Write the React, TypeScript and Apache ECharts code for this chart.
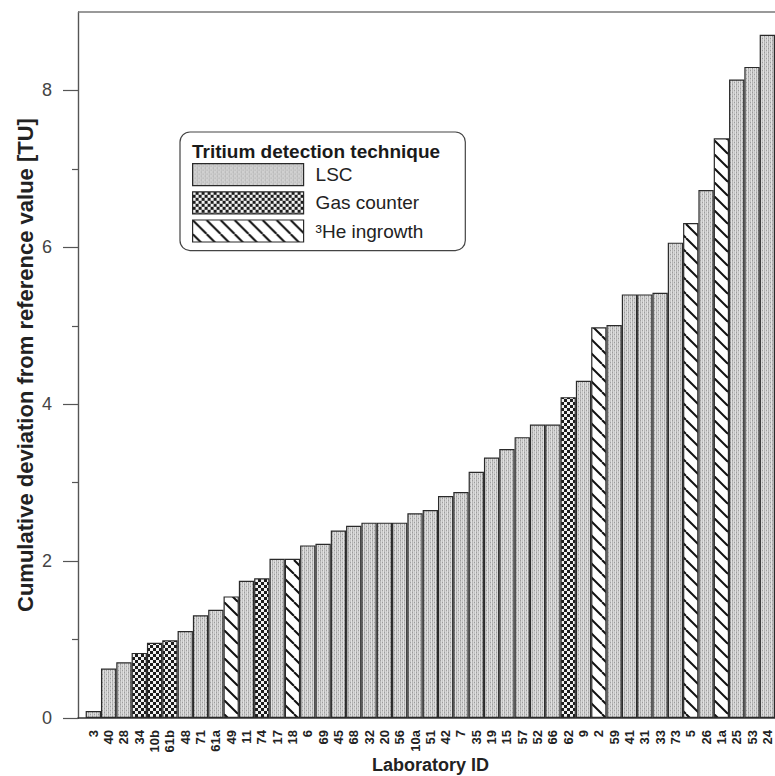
import React, { useEffect, useRef } from 'react';
import * as echarts from 'echarts';

// ---- data ----
const labIds = [
  '3', '40', '28', '34', '10b', '61b', '48', '71', '61a', '49',
  '11', '74', '17', '18', '6', '69', '45', '68', '32', '20',
  '56', '10a', '51', '42', '7', '35', '19', '15', '57', '52',
  '66', '62', '9', '2', '59', '41', '31', '33', '73', '5',
  '26', '1a', '25', '53', '24',
];
const deviations = [
  0.09, 0.63, 0.71, 0.83, 0.96, 0.99, 1.11, 1.31, 1.38, 1.55,
  1.75, 1.78, 2.03, 2.03, 2.20, 2.22, 2.39, 2.45, 2.49, 2.49,
  2.49, 2.61, 2.65, 2.83, 2.88, 3.14, 3.32, 3.43, 3.58, 3.74,
  3.74, 4.09, 4.30, 4.98, 5.01, 5.40, 5.40, 5.42, 6.06, 6.31,
  6.73, 7.39, 8.14, 8.30, 8.71,
];
// L = LSC, G = Gas counter, H = 3He ingrowth
const techniqueCodes = [
  'L', 'L', 'L', 'G', 'G', 'G', 'L', 'L', 'L', 'H',
  'L', 'G', 'L', 'H', 'L', 'L', 'L', 'L', 'L', 'L',
  'L', 'L', 'L', 'L', 'L', 'L', 'L', 'L', 'L', 'L',
  'L', 'G', 'L', 'H', 'L', 'L', 'L', 'L', 'L', 'H',
  'L', 'H', 'L', 'L', 'L',
];
const techniqueKeys = ['L', 'G', 'H'];
const techniqueNames = ['LSC', 'Gas counter', '\u00B3He ingrowth'];
const yMajorTicks = [0, 2, 4, 6, 8];
const yMinorTicks = [1, 3, 5, 7];
const xRange = [0, 45.5];
const yRange = [0, 9];
const legendTitle = 'Tritium detection technique';
const xTitle = 'Laboratory ID';
const yTitle = 'Cumulative deviation from reference value [TU]';

const FONT = '"Liberation Sans", Arial, Helvetica, sans-serif';

function makePattern(kind: string) {
  const c = document.createElement('canvas');
  let size = 4;
  if (kind === 'L') {
    size = 4;
    c.width = size; c.height = size;
    const ctx = c.getContext('2d')!;
    const cols = ['#b6b6b6', '#d9d9d9', '#c6c6c6', '#e0e0e0'];
    cols.forEach((col, i) => { ctx.fillStyle = col; ctx.fillRect(i, 0, 1, size); });
    ctx.fillStyle = '#9c9c9c';
    ctx.fillRect(0, 0, 1, 1);
    ctx.fillRect(2, 2, 1, 1);
  } else if (kind === 'G') {
    size = 6;
    c.width = size; c.height = size;
    const ctx = c.getContext('2d')!;
    ctx.fillStyle = '#1c1c1c';
    ctx.fillRect(0, 0, size, size);
    ctx.fillStyle = '#f2f2f2';
    ctx.fillRect(0, 0, 3, 3);
    ctx.fillRect(3, 3, 3, 3);
  } else {
    size = 14;
    c.width = size; c.height = size;
    const ctx = c.getContext('2d')!;
    ctx.fillStyle = '#ffffff';
    ctx.fillRect(0, 0, size, size);
    ctx.strokeStyle = '#111111';
    ctx.lineWidth = 2;
    [-size, 0, size].forEach((o) => {
      ctx.beginPath();
      ctx.moveTo(o, 0);
      ctx.lineTo(o + size, size);
      ctx.stroke();
    });
  }
  return { image: c, repeat: 'repeat', imageWidth: size, imageHeight: size } as any;
}

export default function App() {
  const ref = useRef<HTMLDivElement>(null);

  useEffect(() => {
    if (!ref.current) return;
    const chart = echarts.init(ref.current, null, { renderer: 'svg' });

    const series = techniqueKeys.map((key, k) => ({
      type: 'bar',
      name: techniqueNames[k],
      xAxisIndex: 0,
      yAxisIndex: 0,
      barGap: '-100%',
      barCategoryGap: '0%',
      itemStyle: {
        color: makePattern(key),
        borderColor: '#2a2a2a',
        borderWidth: 1.2,
      },
      data: labIds
        .map((_, i) => (techniqueCodes[i] === key ? [i + 1, deviations[i]] : null))
        .filter((d) => d !== null),
    }));

    const option: any = {
      animation: false,
      textStyle: { fontFamily: FONT },
      grid: {
        left: 78, right: 0, top: 12, bottom: 58,
        containLabel: false, outerBoundsMode: 'none',
      },
      legend: {
        data: techniqueNames,
        orient: 'vertical',
        left: 180,
        top: 132,
        padding: [31, 42, 8, 12],
        itemWidth: 111,
        itemHeight: 22,
        itemGap: 5,
        icon: 'rect',
        selectedMode: false,
        borderColor: '#444',
        borderWidth: 1.2,
        borderRadius: 10,
        backgroundColor: '#ffffff',
        itemStyle: { borderColor: '#2a2a2a', borderWidth: 1.2 },
        textStyle: { fontSize: 19, color: '#222', fontFamily: FONT, padding: [0, 0, 0, 7] },
      },
      graphic: [
        {
          id: 'legendTitle',
          type: 'text',
          x: 192,
          y: 142,
          z: 100,
          style: {
            text: legendTitle,
            fontSize: 19,
            fontWeight: 'bold',
            fontFamily: FONT,
            fill: '#1a1a1a',
            verticalAlign: 'top',
          },
        },
      ],
      xAxis: [
        {
          type: 'value',
          min: xRange[0],
          max: xRange[1],
          position: 'bottom',
          axisLine: { show: true, onZero: false, lineStyle: { color: '#333', width: 1.5 } },
          axisTick: { show: false },
          splitLine: { show: false },
          axisLabel: {
            customValues: labIds.map((_, i) => i + 1),
            formatter: (v: number) => labIds[Math.round(v) - 1] ?? '',
            rotate: 90,
            fontSize: 13,
            fontWeight: 'bold',
            color: '#222',
            margin: 12,
            fontFamily: FONT,
          },
          name: xTitle,
          nameLocation: 'middle',
          nameGap: 38,
          nameMoveOverlap: false,
          nameTextStyle: { fontSize: 18, fontWeight: 'bold', color: '#222', fontFamily: FONT, padding: [0, 0, 0, 8] },
        },
      ],
      yAxis: [
        {
          type: 'value',
          min: yRange[0],
          max: yRange[1],
          position: 'left',
          axisLine: { show: true, onZero: false, lineStyle: { color: '#555', width: 1.2 } },
          axisTick: { show: true, customValues: yMinorTicks, length: 6, lineStyle: { color: '#555', width: 1.2 } },
          axisLabel: { show: false },
          splitLine: { show: false },
        },
        {
          type: 'value',
          min: yRange[0],
          max: yRange[1],
          position: 'left',
          axisLine: { show: true, onZero: false, lineStyle: { color: '#555', width: 1.2 } },
          axisTick: { show: true, customValues: yMajorTicks, length: 15, lineStyle: { color: '#555', width: 1.2 } },
          axisLabel: { customValues: yMajorTicks, fontSize: 18, color: '#444', margin: 26, fontFamily: FONT },
          splitLine: { show: false },
          name: yTitle,
          nameLocation: 'middle',
          nameGap: 42,
          nameMoveOverlap: false,
          nameTextStyle: { fontSize: 22, fontWeight: 'bold', color: '#222', fontFamily: FONT },
        },
      ],
      series,
    };

    chart.setOption(option);

    // top frame line, placed through the axes' own scales
    const p0 = chart.convertToPixel({ xAxisIndex: 0, yAxisIndex: 0 }, [xRange[0], yRange[1]]) as number[];
    const p1 = chart.convertToPixel({ xAxisIndex: 0, yAxisIndex: 0 }, [xRange[1], yRange[1]]) as number[];
    if (p0 && p1) {
      chart.setOption({
        graphic: [
          {
            id: 'topFrame',
            type: 'line',
            z: 50,
            silent: true,
            shape: { x1: p0[0], y1: p0[1], x2: p1[0], y2: p1[1] },
            style: { stroke: '#777', lineWidth: 1.5 },
          },
        ],
      });
    }

    return () => chart.dispose();
  }, []);

  return (
    <div
      ref={ref}
      style={{ position: 'fixed', left: 0, top: 0, width: 775, height: 776, background: '#fff' }}
    />
  );
}
